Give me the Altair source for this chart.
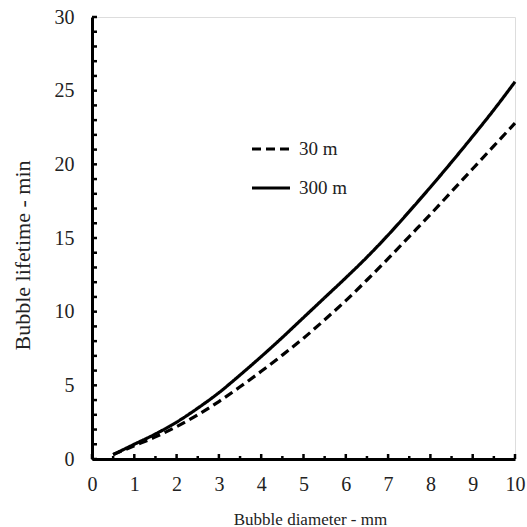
import altair as alt
import pandas as pd

# Data
diam = [0.5, 1, 1.5, 2, 2.5, 3, 3.5, 4, 4.5, 5, 5.5, 6, 6.5, 7, 7.5, 8, 8.5, 9, 9.5, 10]
life_30m = [0.3, 0.9, 1.5, 2.2, 3.0, 3.9, 4.9, 5.95, 7.05, 8.2, 9.45, 10.75, 12.15, 13.6, 15.1, 16.6, 18.15, 19.7, 21.25, 22.8]
life_300m = [0.3, 1.0, 1.7, 2.5, 3.45, 4.5, 5.7, 6.95, 8.25, 9.6, 10.95, 12.3, 13.7, 15.2, 16.8, 18.45, 20.15, 21.9, 23.7, 25.6]
series = ["30 m", "300 m"]

y_minor = list(range(0, 31))
x_major = list(range(0, 11))
x_minor = [v + 0.5 for v in range(0, 10)]

W, H = 423, 442
FONT = "Liberation Serif"

rows = []
for s, vals in zip(series, [life_30m, life_300m]):
    for d, v in zip(diam, vals):
        rows.append({"d": d, "t": v, "s": s})
df = pd.DataFrame(rows)

xs = alt.Scale(domain=[0, 10], nice=False, zero=False)
ys = alt.Scale(domain=[0, 30], nice=False)

lines = alt.Chart(df).mark_line(strokeWidth=3.2, color="black", interpolate="monotone").encode(
    x=alt.X("d:Q", scale=xs, title="Bubble diameter - mm",
            axis=alt.Axis(values=x_major, format="d", tickSize=0, labelPadding=15, labelFlush=False,
                          titlePadding=17, titleX=218, domainWidth=3, domainColor="black", grid=False,
                          labelFontSize=20, titleFontSize=17, labelFont=FONT, titleFont=FONT,
                          labelColor="#222", titleColor="#222", titleFontWeight="normal")),
    y=alt.Y("t:Q", scale=ys, title="Bubble lifetime - min",
            axis=alt.Axis(values=[0, 5, 10, 15, 20, 25, 30], tickSize=0, labelPadding=18, labelFlush=False,
                          titlePadding=20, titleY=238, domainWidth=3, domainColor="black", grid=False,
                          labelFontSize=20, titleFontSize=22, labelFont=FONT, titleFont=FONT,
                          labelColor="#222", titleColor="#222", titleFontWeight="normal")),
    strokeDash=alt.StrokeDash("s:N", scale=alt.Scale(domain=series, range=[[9, 5], [1, 0]]),
                              legend=alt.Legend(title=None, orient="none", legendX=158, legendY=111,
                                                symbolType="stroke", symbolSize=1444,
                                                symbolStrokeWidth=3.2, symbolStrokeColor="black",
                                                labelFont=FONT, labelFontSize=19, labelColor="#222",
                                                labelOffset=7, rowPadding=8)),
    detail="s:N",
)

ytick = alt.Chart(pd.DataFrame({"v": y_minor})).mark_rule(strokeWidth=2.5, color="black").encode(
    y=alt.Y("v:Q", scale=ys), x=alt.value(0), x2=alt.value(5))
xtick_major = alt.Chart(pd.DataFrame({"v": x_major})).mark_rule(strokeWidth=2.5, color="black").encode(
    x=alt.X("v:Q", scale=xs), y=alt.value(H), y2=alt.value(H - 5))
xtick_minor = alt.Chart(pd.DataFrame({"v": x_minor})).mark_rule(strokeWidth=2.5, color="black").encode(
    x=alt.X("v:Q", scale=xs), y=alt.value(H), y2=alt.value(H - 3))

chart = alt.layer(lines, ytick, xtick_major, xtick_minor).properties(
    width=W, height=H,
    autosize=alt.AutoSizeParams(type="none"),
    padding={"left": 92, "top": 17, "right": 12, "bottom": 68},
).configure_view(stroke=None).configure(background="white")

chart.save("out.html", embed_options={"renderer": "svg", "actions": False})
